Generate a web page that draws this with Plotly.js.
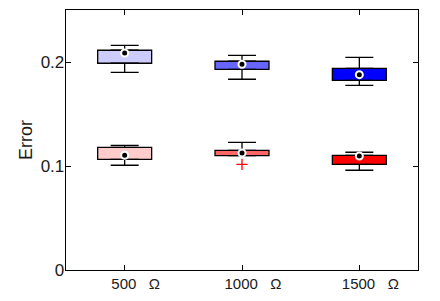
<!DOCTYPE html>
<html>
<head>
<meta charset="utf-8">
<script src="https://cdn.plot.ly/plotly-3.0.1.min.js"></script>
<style>html,body{margin:0;padding:0;background:#fff;}#chart{width:440px;height:301px;}</style>
</head>
<body>
<div id="chart"></div>
<script>
// Categories
const categories = ['500\u00a0\u00a0\u00a0\u03a9', '1000\u00a0\u00a0\u00a0\u03a9', '1500\u00a0\u00a0\u00a0\u03a9'];

// Upper group (blue shades)
const upperLo  = [0.190, 0.1834, 0.1776];
const upperQ1  = [0.1988, 0.193, 0.1824];
const upperMed = [0.2087, 0.1978, 0.1878];
const upperQ3  = [0.2113, 0.2007, 0.1939];
const upperHi  = [0.216, 0.2064, 0.2045];
const upperColors = ['#ccccff', '#6666ff', '#0000ff'];

// Lower group (red shades)
const lowerLo  = [0.1007, 0.1099, 0.0959];
const lowerQ1  = [0.1064, 0.1099, 0.1016];
const lowerMed = [0.1103, 0.1125, 0.1096];
const lowerQ3  = [0.118, 0.1151, 0.1103];
const lowerHi  = [0.1199, 0.1228, 0.1132];
const lowerColors = ['#ffcccc', '#ff6666', '#ff0000'];

// Outliers
const outlierX = ['1000\u00a0\u00a0\u00a0\u03a9'];
const outlierY = [0.1016];

const yTicks = [0, 0.1, 0.2];
const yTickText = ['0', '0.1', '0.2'];

function boxBar(q1, q3, colors) {
  return {
    type: 'bar', x: categories, base: q1,
    y: q3.map((v, i) => v - q1[i]),
    width: 0.46,
    marker: {color: colors, line: {color: '#000', width: 1.3}},
    hoverinfo: 'skip', showlegend: false
  };
}
function whiskerUp(q3, hi) {
  return {
    type: 'scatter', mode: 'markers', x: categories, y: q3,
    marker: {size: 1, color: 'rgba(0,0,0,0)'},
    error_y: {type: 'data', symmetric: false,
      array: hi.map((v, i) => v - q3[i]), arrayminus: q3.map(() => 0),
      width: 14, thickness: 1.3, color: '#000'},
    showlegend: false, hoverinfo: 'skip'
  };
}
function whiskerDown(q1, lo) {
  return {
    type: 'scatter', mode: 'markers', x: categories, y: q1,
    marker: {size: 1, color: 'rgba(0,0,0,0)'},
    error_y: {type: 'data', symmetric: false,
      array: q1.map(() => 0), arrayminus: q1.map((v, i) => v - lo[i]),
      width: 14, thickness: 1.3, color: '#000'},
    showlegend: false, hoverinfo: 'skip'
  };
}
function medians(med) {
  return {
    type: 'scatter', mode: 'markers', x: categories, y: med,
    marker: {symbol: 'circle', size: 7, color: '#000', line: {color: '#fff', width: 2}},
    showlegend: false, hoverinfo: 'skip'
  };
}

const data = [
  boxBar(upperQ1, upperQ3, upperColors),
  boxBar(lowerQ1, lowerQ3, lowerColors),
  whiskerUp(upperQ3, upperHi), whiskerDown(upperQ1, upperLo),
  whiskerUp(lowerQ3, lowerHi), whiskerDown(lowerQ1, lowerLo),
  medians(upperMed), medians(lowerMed),
  {type: 'scatter', mode: 'markers', x: outlierX, y: outlierY,
   marker: {symbol: 'cross-thin-open', size: 8, color: '#ff0000', line: {color: '#ff0000', width: 1.3}},
   showlegend: false, hoverinfo: 'skip'}
];

const layout = {
  width: 440, height: 301,
  margin: {l: 66, r: 22, t: 10, b: 31},
  paper_bgcolor: '#fff', plot_bgcolor: '#fff',
  barmode: 'overlay',
  font: {family: 'Liberation Sans, Arial, sans-serif', size: 17, color: '#1a1a1a'},
  xaxis: {
    type: 'category', range: [-0.5, 2.5],
    showline: true, linecolor: '#000', linewidth: 1.3, mirror: 'ticks',
    ticks: 'inside', ticklen: 5, tickcolor: '#000', tickwidth: 1,
    ticklabelshift: 11, ticklabelstandoff: 0,
    showgrid: false, zeroline: false, fixedrange: true,
    tickfont: {size: 15, color: '#1a1a1a'}
  },
  yaxis: {
    range: [0, 0.25], tickvals: yTicks, ticktext: yTickText,
    showline: true, linecolor: '#000', linewidth: 1.3, mirror: 'ticks',
    ticks: 'inside', ticklen: 5, tickcolor: '#000', tickwidth: 1,
    ticklabelstandoff: -3,
    showgrid: false, zeroline: false,
    title: {text: 'Error', font: {size: 18, color: '#1a1a1a'}, standoff: 3},
    tickfont: {size: 17, color: '#1a1a1a'}
  }
};

Plotly.newPlot('chart', data, layout, {staticPlot: true, displayModeBar: false});
</script>
</body>
</html>
